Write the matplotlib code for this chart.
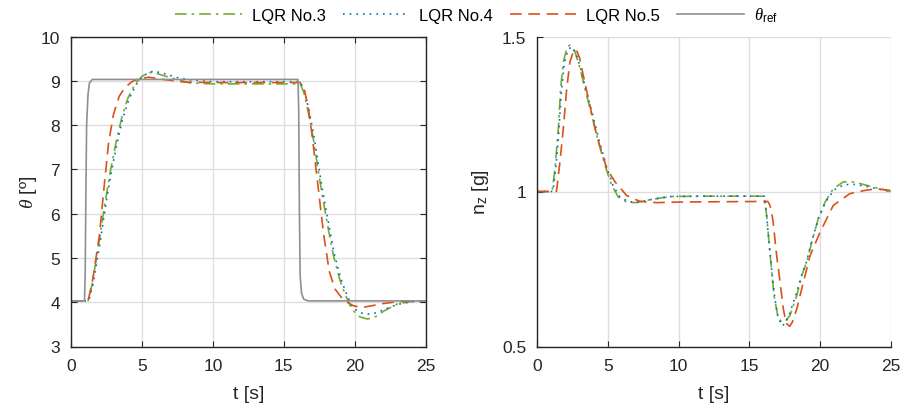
import matplotlib
matplotlib.use("Agg")
import matplotlib.pyplot as plt

plt.rcParams['font.family'] = ['Liberation Sans', 'DejaVu Sans']
plt.rcParams['mathtext.fontset'] = 'custom'
plt.rcParams['mathtext.rm'] = 'Liberation Sans'
plt.rcParams['mathtext.it'] = 'Liberation Serif:italic'

# ---------------- data: pitch angle theta [deg] ----------------
ref_t = [0, 0.95, 1.0, 1.05, 1.1, 1.2, 1.3, 1.5, 16.0, 16.05, 16.1, 16.15, 16.25, 16.4, 16.7, 25]
ref_v = [4.03, 4.03, 4.6, 6.5, 8.0, 8.7, 8.95, 9.03, 9.03, 8.3, 6.0, 4.6, 4.2, 4.07, 4.03, 4.03]

th3_t = [0, 1.2, 1.5, 2.0, 2.4, 2.8, 3.2, 3.6, 4.0, 4.5, 5.0, 5.5, 6.0, 7.0, 8.4, 10, 13, 16.15,
         16.4, 16.75, 17.1, 17.45, 17.8, 18.15, 18.5, 18.95, 19.4, 19.8, 20.35, 20.9, 21.5, 22.1, 23.0, 24, 25]
th3_v = [4.03, 4.03, 4.42, 5.4, 6.25, 7.0, 7.65, 8.2, 8.6, 8.92, 9.1, 9.19, 9.17, 9.07, 8.95, 8.93, 8.93, 8.93,
         8.75, 8.25, 7.65, 6.92, 6.25, 5.63, 5.05, 4.5, 4.12, 3.84, 3.67, 3.62, 3.68, 3.81, 3.96, 4.02, 4.03]

th4_t = [0, 1.25, 1.55, 2.05, 2.45, 2.85, 3.25, 3.65, 4.1, 4.6, 5.1, 5.8, 6.5, 7.5, 8.4, 10, 13, 16.15,
         16.45, 16.8, 17.15, 17.5, 17.85, 18.2, 18.55, 19.0, 19.45, 19.85, 20.4, 20.9, 21.5, 22.2, 23.0, 24, 25]
th4_v = [4.03, 4.03, 4.4, 5.35, 6.2, 6.95, 7.6, 8.15, 8.6, 8.92, 9.12, 9.22, 9.17, 9.07, 9.02, 8.98, 8.98, 8.98,
         8.78, 8.3, 7.7, 6.97, 6.3, 5.7, 5.1, 4.55, 4.16, 3.88, 3.76, 3.73, 3.76, 3.85, 3.95, 4.01, 4.03]

th5_t = [0, 1.2, 1.5, 2.0, 2.3, 2.65, 3.0, 3.4, 3.8, 4.3, 4.8, 5.5, 6.5, 8, 10, 13, 16.15,
         16.4, 16.7, 17.0, 17.4, 17.8, 18.2, 18.6, 19.2, 19.9, 20.5, 21.2, 22.0, 23.0, 25]
th5_v = [4.03, 4.03, 4.45, 5.5, 6.5, 7.6, 8.25, 8.65, 8.85, 8.98, 9.05, 9.08, 9.03, 8.97, 8.96, 8.96, 8.96,
         8.85, 8.45, 7.75, 6.65, 5.55, 4.7, 4.3, 4.05, 3.92, 3.88, 3.92, 3.97, 4.01, 4.03]

# ---------------- data: load factor nz [g] ----------------
nz3_t = [0, 1.05, 1.25, 1.49, 1.65, 1.84, 2.12, 2.3, 2.67, 3.02, 3.37, 3.85, 4.32, 4.79, 5.26, 5.73, 6.32,
         6.91, 7.8, 8.7, 9.5, 12, 16.05, 16.22, 16.41, 16.58, 16.74, 16.98, 17.2, 17.4, 17.6, 17.87, 18.35,
         18.7, 19.05, 19.41, 19.87, 20.35, 20.93, 21.64, 22.35, 23.3, 24.24, 25]
nz3_v = [1.0, 1.0, 1.074, 1.203, 1.332, 1.418, 1.467, 1.472, 1.45, 1.397, 1.332, 1.246, 1.16, 1.084, 1.02,
         0.982, 0.966, 0.964, 0.972, 0.979, 0.984, 0.985, 0.985, 0.923, 0.826, 0.74, 0.664, 0.605, 0.583,
         0.578, 0.585, 0.6, 0.664, 0.729, 0.772, 0.837, 0.912, 0.966, 1.009, 1.031, 1.031, 1.02, 1.009, 1.0]

nz4_t = [0, 1.1, 1.3, 1.5, 1.7, 1.9, 2.15, 2.4, 2.7, 3.05, 3.4, 3.9, 4.4, 4.9, 5.35, 5.8, 6.4, 7.0, 7.8,
         8.7, 9.5, 12, 16.05, 16.2, 16.4, 16.6, 16.8, 17.0, 17.28, 17.5, 17.8, 18.3, 18.7, 19.05, 19.4, 19.9,
         20.4, 21.0, 21.7, 22.4, 23.3, 24.2, 25]
nz4_v = [1.0, 1.0, 1.07, 1.18, 1.32, 1.41, 1.455, 1.467, 1.45, 1.40, 1.335, 1.25, 1.16, 1.08, 1.02, 0.985,
         0.968, 0.964, 0.972, 0.979, 0.984, 0.985, 0.985, 0.93, 0.83, 0.735, 0.655, 0.6, 0.567, 0.572, 0.6,
         0.668, 0.73, 0.775, 0.838, 0.915, 0.967, 1.006, 1.022, 1.023, 1.016, 1.007, 1.0]

nz5_t = [0, 1.35, 1.41, 1.6, 1.84, 2.08, 2.31, 2.55, 2.75, 3.0, 3.25, 3.61, 4.2, 4.91, 5.5, 6.32, 7.26,
         8.44, 10, 16.3, 16.46, 16.65, 16.93, 17.17, 17.4, 17.6, 17.85, 18.05, 18.35, 18.7, 19.29, 20.0,
         20.93, 22.1, 23.1, 24.0, 25]
nz5_v = [1.0, 1.0, 1.02, 1.095, 1.203, 1.332, 1.418, 1.452, 1.458, 1.43, 1.375, 1.30, 1.181, 1.074, 1.031,
         0.987, 0.968, 0.964, 0.966, 0.968, 0.955, 0.912, 0.793, 0.707, 0.621, 0.575, 0.565, 0.58, 0.621,
         0.686, 0.793, 0.869, 0.955, 0.993, 1.003, 1.009, 1.003]

labels = ['LQR No.3', 'LQR No.4', 'LQR No.5', r'$\theta_{\rm ref}$']

c3 = '#77AC30'
c4 = '#0072BD'
c5 = '#D95319'
cref = '#8f8f8f'
tc = '#262626'

fig = plt.figure(figsize=(9.04, 4.10), dpi=100)
ax1 = fig.add_axes([71 / 904, 62.5 / 410, 354.7 / 904, 310 / 410])
ax2 = fig.add_axes([537.3 / 904, 62.5 / 410, 353.5 / 904, 310 / 410])

lw = 1.2
l3, = ax1.plot(th3_t, th3_v, color=c3, ls=(0, (7, 3, 1.5, 3)), lw=lw)
l4, = ax1.plot(th4_t, th4_v, color=c4, ls=(0, (1, 3)), lw=lw)
l5, = ax1.plot(th5_t, th5_v, color=c5, ls=(0, (7, 4)), lw=lw)
lr, = ax1.plot(ref_t, ref_v, color=cref, ls='-', lw=1.2)

ax2.plot(nz3_t, nz3_v, color=c3, ls=(0, (7, 3, 1.5, 3)), lw=lw)
ax2.plot(nz4_t, nz4_v, color=c4, ls=(0, (1, 3)), lw=lw)
ax2.plot(nz5_t, nz5_v, color=c5, ls=(0, (7, 4)), lw=lw)

for ax in (ax1, ax2):
    ax.set_xlim(0, 25)
    ax.set_xticks([0, 5, 10, 15, 20, 25])
    ax.grid(True, color='#dedede', lw=1.0)
    ax.set_axisbelow(True)
    ax.tick_params(direction='in', length=4, width=0.8, labelsize=12.5, colors=tc)
    ax.tick_params(axis='x', pad=8)
    ax.tick_params(axis='y', pad=8)
    ax.set_xlabel('t [s]', fontsize=14, color=tc, labelpad=9)
    for s in ax.spines.values():
        s.set_color(tc)
        s.set_linewidth(1.0)

ax1.set_ylim(3, 10)
ax1.set_yticks(range(3, 11))
ax1.tick_params(top=True, right=True)
ax1.set_ylabel(r'$\theta$ [º]', fontsize=14, color=tc, labelpad=1)

ax2.set_ylim(0.5, 1.5)
ax2.set_yticks([0.5, 1.0, 1.5])
ax2.set_yticklabels(['0.5', '1', '1.5'])
ax2.spines['top'].set_visible(False)
ax2.spines['right'].set_visible(False)
ax2.set_ylabel(r'n$_{\rm z}$ [g]', fontsize=14, color=tc, labelpad=8)

fig.legend([l3, l4, l5, lr], labels, loc='upper center', bbox_to_anchor=(0.527, 1.02), ncol=4,
           frameon=False, fontsize=12, handlelength=4.0, columnspacing=1.0, handletextpad=0.6)

fig.savefig('out.png', dpi=100)
